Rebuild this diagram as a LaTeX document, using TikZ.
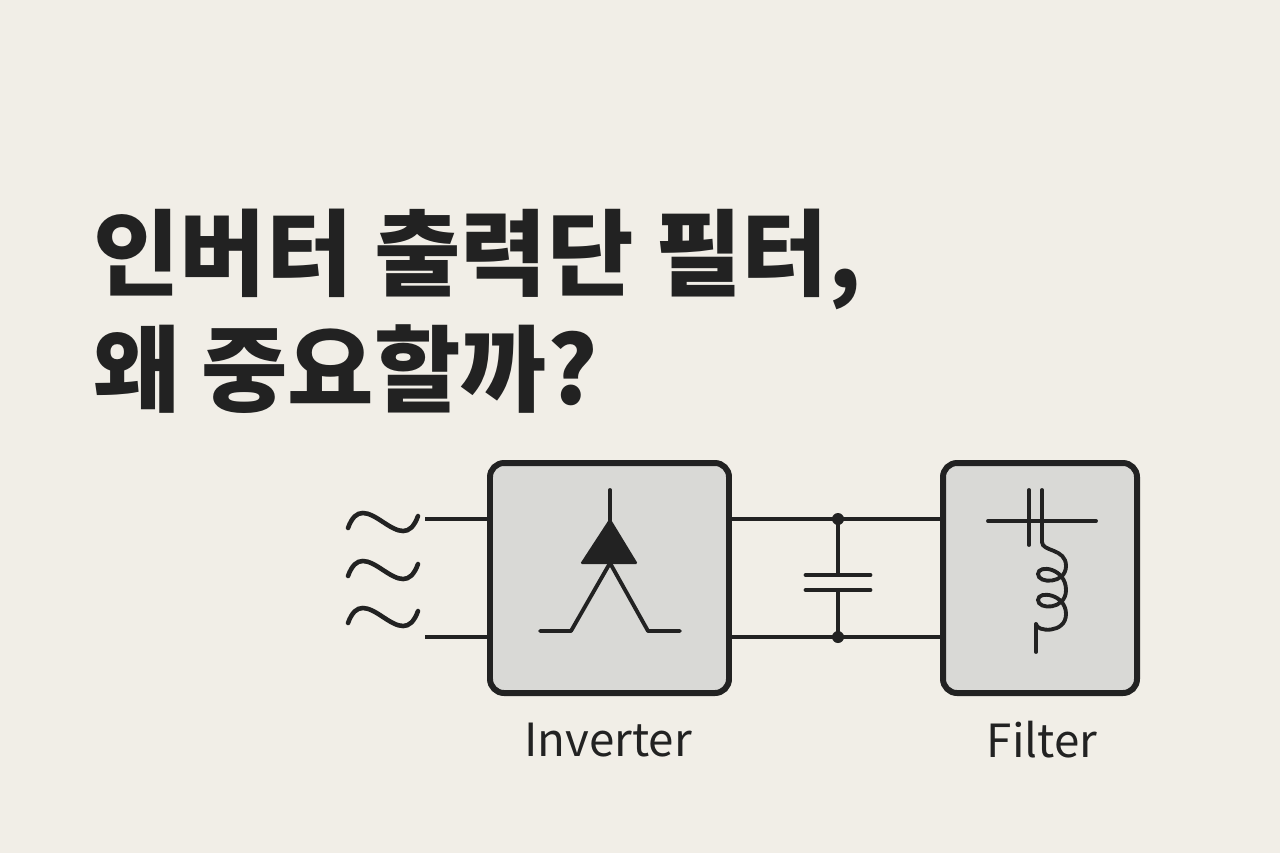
\documentclass[tikz,border=0pt]{standalone}
\usepackage{fontspec}
\setmainfont{Noto Sans CJK KR}
\newfontfamily\cjk{Noto Sans CJK KR}
\definecolor{paper}{HTML}{F1EEE7}
\definecolor{boxgray}{HTML}{D9D9D6}
\definecolor{ink}{HTML}{222222}
\tikzset{
  block/.style={draw=ink,fill=boxgray,line width=3.4pt,rounded corners=8pt},
  wire/.style={draw=ink,line width=2.8pt},
  thin/.style={draw=ink,line width=2.2pt,line cap=round},
}
\begin{document}
\begin{tikzpicture}[x=0.02cm,y=-0.02cm]
  \fill[paper](0,0) rectangle (1280,853);
  \useasboundingbox (0,0) rectangle (1280,853);
  % title
  \node[anchor=base west,inner sep=0,font=\cjk\bfseries\fontsize{53.5}{60}\selectfont,text=ink](T1) at (93,288) {인버터 출력단 필터,};
  \node[anchor=base west,inner sep=0,font=\cjk\bfseries\fontsize{53.5}{60}\selectfont,text=ink](T2) at (93,404) {왜 중요할까?};
  % blocks
  \draw[block](490,463) rectangle (729,693);
  \draw[block](943,463) rectangle (1137,693);
  \coordinate(inA) at (490,519); \coordinate(inB) at (490,637);
  \coordinate(outA) at (729,519); \coordinate(outB) at (729,637);
  \coordinate(fA) at (943,519); \coordinate(fB) at (943,637);
  \coordinate(jA) at (838,519); \coordinate(jB) at (838,637);
  % input wires and sources
  \draw[wire](425,519)--(inA) (425,637)--(inB);
  \foreach \y in {522,570,617}
    \draw[thin,line width=2.6pt](348,\y+6) .. controls (356,\y-16) and (368,\y-10) .. (383,\y)
      .. controls (398,\y+10) and (410,\y+16) .. (418,\y-6);
  % dc link
  \draw[wire](outA)--(fA) (outB)--(fB);
  \fill[ink](jA) circle (6) (jB) circle (6);
  \draw[wire](jA)--(838,575) (838,590)--(jB);
  \draw[thin,line width=2.8pt](806,575)--(870,575) (806,590)--(870,590);
  % inverter symbol
  \draw[thin](610,490)--(610,520);
  \fill[ink,rounded corners=1pt](610,518)--(638,564)--(580,564)--cycle;
  \draw[thin,line join=round](540,631)--(571,631)--(610,563)--(648,631)--(680,631);
  % filter symbol
  \draw[thin](988,521)--(1096,521);
  \draw[thin](1029,490)--(1029,545) (1042,490)--(1042,542);
  \draw[thin](1042,542) .. controls (1042,552) and (1066,548) .. (1066,566)
    .. controls (1066,584) and (1038,584) .. (1038,574)
    .. controls (1038,564) and (1066,568) .. (1066,590)
    .. controls (1066,610) and (1038,610) .. (1038,600)
    .. controls (1038,590) and (1066,594) .. (1066,614)
    .. controls (1066,634) and (1036,632) .. (1036,624);
  \draw[thin](1036,624)--(1036,652);
  % labels
  \node[font=\fontsize{26}{30}\selectfont,text=ink](invlbl) at (608,740) {Inverter};
  \node[font=\fontsize{26}{30}\selectfont,text=ink](fltlbl) at (1042,740) {Filter};
\end{tikzpicture}
\end{document}
